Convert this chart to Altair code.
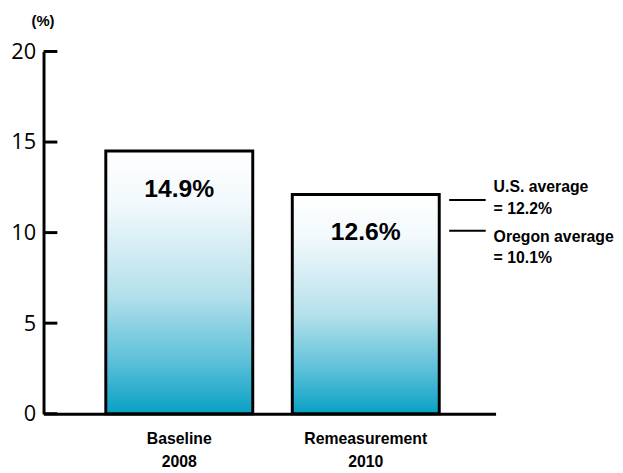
import altair as alt
import pandas as pd

# --- data ---
categories = ["Baseline 2008", "Remeasurement 2010"]
bar_heights = [14.5, 12.1]          # drawn bar heights (%)
bar_labels = ["14.9%", "12.6%"]     # printed labels
ref_names = ["U.S. average", "Oregon average"]
ref_values = [11.8, 10.1]           # drawn reference line positions
ref_texts = ["U.S. average\n= 12.2%", "Oregon average\n= 10.1%"]
y_ticks = [0, 5, 10, 15, 20]

bars_df = pd.DataFrame({"cat": categories, "value": bar_heights, "label": bar_labels})
ref_df = pd.DataFrame({"name": ref_names, "value": ref_values, "text": ref_texts})
tick_df = pd.DataFrame({"tick": y_ticks})

COND = "Liberation Sans, Arial, sans-serif"
REG = "Open Sans, Noto Sans, sans-serif"

gradient = alt.LinearGradient(
    gradient="linear",
    stops=[
        alt.GradientStop(color="#ffffff", offset=0),
        alt.GradientStop(color="#f2f9fc", offset=0.2),
        alt.GradientStop(color="#b4e0eb", offset=0.55),
        alt.GradientStop(color="#5cc0d9", offset=0.8),
        alt.GradientStop(color="#08a0c4", offset=1),
    ],
    x1=0, x2=0, y1=0, y2=1,
)

x_enc = alt.X(
    "cat:N",
    sort=categories,
    scale=alt.Scale(paddingInner=0.212, paddingOuter=0.318, align=0.525),
    axis=alt.Axis(
        title=None, labelAngle=0, ticks=False, domainColor="black", domainWidth=3,
        labelFont=COND, labelFontSize=16, labelFontWeight="bold", labelColor="black",
        labelPadding=17, labelLineHeight=23,
        labelExpr="split(datum.label, ' ')",
    ),
)
y_scale = alt.Scale(domain=[0, 20], nice=False, zero=True)
y_enc = alt.Y(
    "value:Q",
    scale=y_scale,
    axis=alt.Axis(
        values=y_ticks, ticks=False, grid=False, domainColor="black", domainWidth=3,
        labelFont=REG, labelFontSize=22, labelColor="black", labelPadding=8,
        title="(%)", titleAngle=0, titleX=-1, titleY=-31, titleAlign="center",
        titleBaseline="middle", titleFont=COND, titleFontSize=15, titleFontWeight="bold",
        titleColor="black",
    ),
)

bars = alt.Chart(bars_df).mark_bar(fill=gradient, stroke="black", strokeWidth=3).encode(
    x=x_enc, y=y_enc
)

bar_text = alt.Chart(bars_df).mark_text(
    font=COND, fontSize=25, fontWeight="bold", color="black", baseline="middle", dy=38
).encode(x=alt.X("cat:N", sort=categories), y=alt.Y("value:Q", scale=y_scale), text="label:N")

ticks = alt.Chart(tick_df).mark_rule(color="black", strokeWidth=3).encode(
    x=alt.value(0), x2=alt.value(14), y=alt.Y("tick:Q", scale=y_scale)
)

ref_lines = alt.Chart(ref_df).mark_rule(color="black", strokeWidth=2).encode(
    x=alt.value(411), x2=alt.value(448), y=alt.Y("value:Q", scale=y_scale)
)

us_text = alt.Chart(ref_df).transform_filter(alt.datum.name == "U.S. average").mark_text(
    font=COND, fontSize=16, fontWeight="bold", color="black", align="left",
    baseline="middle", lineBreak="\n", lineHeight=22, dy=-13
).encode(x=alt.value(456), y=alt.Y("value:Q", scale=y_scale), text="text:N")

or_text = alt.Chart(ref_df).transform_filter(alt.datum.name == "Oregon average").mark_text(
    font=COND, fontSize=16, fontWeight="bold", color="black", align="left",
    baseline="middle", lineBreak="\n", lineHeight=22, dy=6
).encode(x=alt.value(456), y=alt.Y("value:Q", scale=y_scale), text="text:N")

chart = alt.layer(bars, bar_text, ticks, ref_lines, us_text, or_text).properties(
    width=458, height=367,
    autosize=alt.AutoSizeParams(type="none"),
    padding={"left": 36, "top": 41, "right": 121, "bottom": 57},
).configure_view(stroke=None)

chart.save("out.html", embed_options={"renderer": "svg", "actions": False})
